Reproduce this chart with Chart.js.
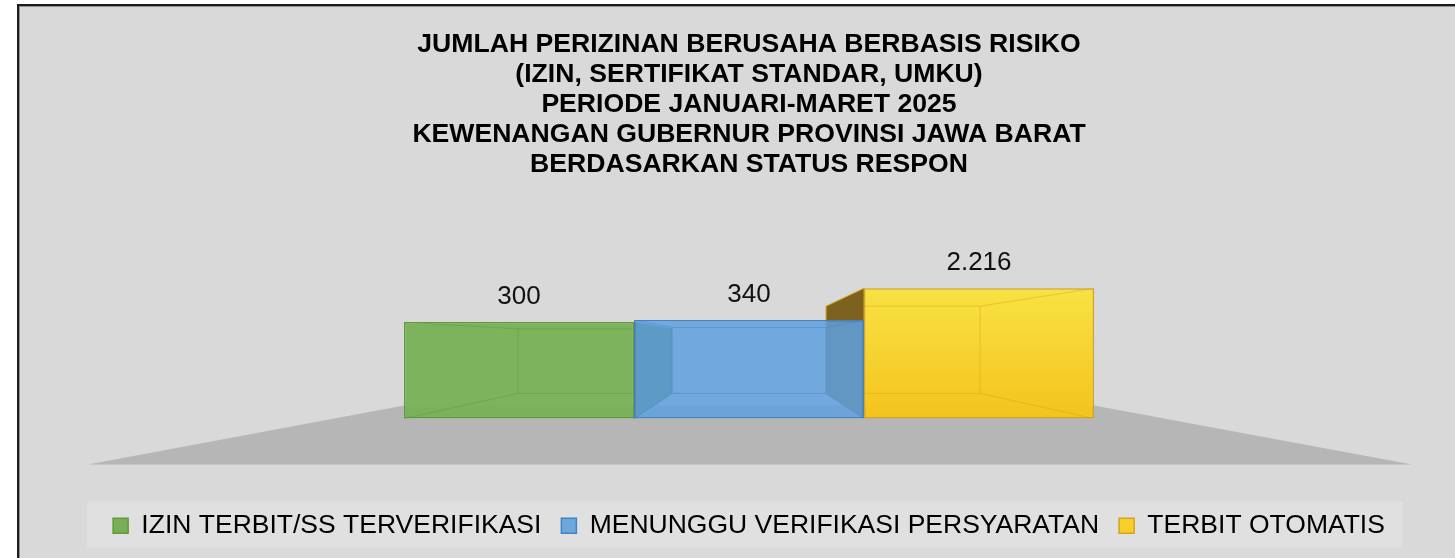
<!DOCTYPE html>
<html>
<head>
<meta charset="utf-8">
<script src="https://cdn.jsdelivr.net/npm/chart.js@4.4.1/dist/chart.umd.min.js"></script>
<style>
    html, body { margin: 0; padding: 0; background: #ffffff; overflow: hidden; }
    #frame {
        position: absolute;
        left: 17px;
        top: 4px;
        width: 1436px;
        height: 552px;
        border-left: 2px solid #1c1c1c;
        border-top: 2px solid #1c1c1c;
        box-shadow: inset 1px 1px 0 #8f8f8f;
        background: #d9d9d9;
    }
</style>
</head>
<body>
<div id="frame"><canvas id="perizinanChart"></canvas></div>
<script>
// Chart data
const categories = ['Status Respon'];
const seriesNames = ['IZIN TERBIT/SS TERVERIFIKASI', 'MENUNGGU VERIFIKASI PERSYARATAN', 'TERBIT OTOMATIS'];
const izinTerbit = [300];
const menungguVerifikasi = [340];
const terbitOtomatis = [2216];
const titleLines = [
    'JUMLAH PERIZINAN BERUSAHA BERBASIS RISIKO',
    '(IZIN, SERTIFIKAT STANDAR, UMKU)',
    'PERIODE JANUARI-MARET 2025',
    'KEWENANGAN GUBERNUR PROVINSI JAWA BARAT',
    'BERDASARKAN STATUS RESPON'
];

const fontFamily = '"Liberation Sans", Arial, sans-serif';

// Colours per series: front face, border, shaded side face, legend swatch
const frontColors = ['rgba(120, 177, 86, 0.96)', 'rgba(96, 160, 222, 0.86)', null];
const borderColors = ['#5f9a3c', '#3f84c8', '#d4a514'];
const sideColors = ['#4f7a34', '#3f6f9c', '#7c621e'];
const legendColors = ['#79ae57', '#6ea7dc', '#f8cf2a'];

// Perspective settings for the box look
const depthScale = 0.67;

function formatNumber(v) {
    return String(v).replace(/\B(?=(\d{3})+(?!\d))/g, '.');
}

function yellowFill(context) {
    const chart = context.chart;
    const area = chart.chartArea;
    if (!area || !chart.scales.y) return '#f6d02c';
    const top = chart.scales.y.getPixelForValue(terbitOtomatis[0]);
    const g = chart.ctx.createLinearGradient(0, top, 0, area.bottom);
    g.addColorStop(0, '#f8e244');
    g.addColorStop(1, '#f4c31d');
    return g;
}

function barBox(bar) {
    return { x1: bar.x - bar.width / 2, x2: bar.x + bar.width / 2, top: bar.y, bottom: bar.base };
}

function project(x, y, vp) {
    return { x: vp.x + depthScale * (x - vp.x), y: vp.y + depthScale * (y - vp.y) };
}

function getBars(chart) {
    return chart.data.datasets.map((ds, i) => chart.getDatasetMeta(i).data[0]);
}

function vanishingPoint(bars) {
    const left = barBox(bars[0]).x1;
    const right = barBox(bars[bars.length - 1]).x2;
    return { x: (left + right) / 2, y: bars[0].base - 76 };
}

// Floor, legend panel and outer side faces drawn under the bars
const boxPlugin = {
    id: 'box3d',
    beforeDraw(chart) {
        const ctx = chart.ctx;
        const boxes = chart.legend.legendHitBoxes;
        if (boxes && boxes.length) {
            const first = boxes[0];
            const last = boxes[boxes.length - 1];
            ctx.save();
            ctx.fillStyle = '#e0e0e0';
            ctx.fillRect(first.left - 26, first.top - 11, last.left + last.width - first.left + 44, 46);
            ctx.restore();
        }
    },
    beforeDatasetsDraw(chart) {
        const ctx = chart.ctx;
        const bars = getBars(chart);
        const left = barBox(bars[0]).x1;
        const right = barBox(bars[bars.length - 1]).x2;
        const base = bars[0].base;
        const vp = vanishingPoint(bars);

        ctx.save();
        ctx.fillStyle = '#b6b6b6';
        ctx.beginPath();
        ctx.moveTo(left, base - 13);
        ctx.lineTo(right, base - 13);
        ctx.lineTo(right + 318, base + 46);
        ctx.lineTo(left - 316, base + 46);
        ctx.closePath();
        ctx.fill();

        bars.forEach((bar, i) => {
            const b = barBox(bar);
            const bt1 = project(b.x1, b.top, vp);
            const bb1 = project(b.x1, b.bottom, vp);
            const bt2 = project(b.x2, b.top, vp);
            const bb2 = project(b.x2, b.bottom, vp);
            ctx.fillStyle = sideColors[i];
            ctx.strokeStyle = borderColors[i];
            ctx.lineWidth = 1;
            if (bt1.x < b.x1) {
                ctx.beginPath();
                ctx.moveTo(b.x1, b.top);
                ctx.lineTo(bt1.x, bt1.y);
                ctx.lineTo(bb1.x, bb1.y);
                ctx.lineTo(b.x1, b.bottom);
                ctx.closePath();
                ctx.fill();
                ctx.stroke();
            }
            if (bt2.x > b.x2) {
                ctx.beginPath();
                ctx.moveTo(b.x2, b.top);
                ctx.lineTo(bt2.x, bt2.y);
                ctx.lineTo(bb2.x, bb2.y);
                ctx.lineTo(b.x2, b.bottom);
                ctx.closePath();
                ctx.fill();
                ctx.stroke();
            }
        });
        ctx.restore();
    },
    afterDatasetsDraw(chart) {
        const ctx = chart.ctx;
        const bars = getBars(chart);
        const vp = vanishingPoint(bars);

        // inner edges seen through each front face
        bars.forEach((bar, i) => {
            const b = barBox(bar);
            const c = [
                project(b.x1, b.top, vp), project(b.x2, b.top, vp),
                project(b.x2, b.bottom, vp), project(b.x1, b.bottom, vp)
            ];
            const f = [
                { x: b.x1, y: b.top }, { x: b.x2, y: b.top },
                { x: b.x2, y: b.bottom }, { x: b.x1, y: b.bottom }
            ];
            ctx.save();
            ctx.beginPath();
            ctx.rect(b.x1, b.top, b.x2 - b.x1, b.bottom - b.top);
            ctx.clip();
            ctx.globalAlpha = 0.45;
            ctx.strokeStyle = borderColors[i];
            ctx.lineWidth = 1;
            ctx.beginPath();
            ctx.moveTo(c[0].x, c[0].y);
            for (let k = 1; k < 4; k++) ctx.lineTo(c[k].x, c[k].y);
            ctx.closePath();
            for (let k = 0; k < 4; k++) {
                ctx.moveTo(f[k].x, f[k].y);
                ctx.lineTo(c[k].x, c[k].y);
            }
            ctx.stroke();
            ctx.restore();
        });

        // value labels
        ctx.save();
        ctx.font = '26px ' + fontFamily;
        ctx.fillStyle = '#111111';
        ctx.textAlign = 'center';
        ctx.textBaseline = 'middle';
        bars.forEach((bar, i) => {
            const value = chart.data.datasets[i].data[0];
            ctx.fillText(formatNumber(value), bar.x, bar.y - 25);
        });
        ctx.restore();
    }
};

function initializeChart() {
    const ctx = document.getElementById('perizinanChart').getContext('2d');
    const seriesData = [izinTerbit, menungguVerifikasi, terbitOtomatis];

    new Chart(ctx, {
        type: 'bar',
        data: {
            labels: categories,
            datasets: seriesData.map((values, i) => ({
                label: seriesNames[i],
                data: values,
                backgroundColor: frontColors[i] || yellowFill,
                borderColor: borderColors[i],
                borderWidth: 1.5,
                borderSkipped: false,
                barPercentage: 1,
                categoryPercentage: 0.5
            }))
        },
        options: {
            responsive: true,
            maintainAspectRatio: false,
            animation: false,
            layout: {
                padding: { left: 40, right: 16, top: 0, bottom: 9 }
            },
            scales: {
                x: {
                    display: true,
                    grid: { display: false },
                    border: { display: false },
                    ticks: { display: false },
                    afterFit(scale) { scale.height = 74; }
                },
                y: {
                    type: 'logarithmic',
                    display: false,
                    min: 1,
                    max: 1000000
                }
            },
            plugins: {
                title: {
                    display: true,
                    text: titleLines,
                    color: '#000000',
                    font: { family: fontFamily, size: 26.6, weight: 'bold', lineHeight: 30 / 26.6 },
                    padding: { top: 24, bottom: 5 }
                },
                legend: {
                    position: 'bottom',
                    labels: {
                        color: '#000000',
                        font: { family: fontFamily, size: 26.5 },
                        boxWidth: 15,
                        boxHeight: 15,
                        padding: 20,
                        generateLabels(chart) {
                            return chart.data.datasets.map((ds, i) => ({
                                text: ds.label,
                                fillStyle: legendColors[i],
                                strokeStyle: borderColors[i],
                                lineWidth: 1.5,
                                hidden: false,
                                datasetIndex: i
                            }));
                        }
                    }
                },
                tooltip: { enabled: false }
            }
        },
        plugins: [boxPlugin]
    });
}

document.addEventListener('DOMContentLoaded', function() {
    initializeChart();
});
</script>
</body>
</html>
